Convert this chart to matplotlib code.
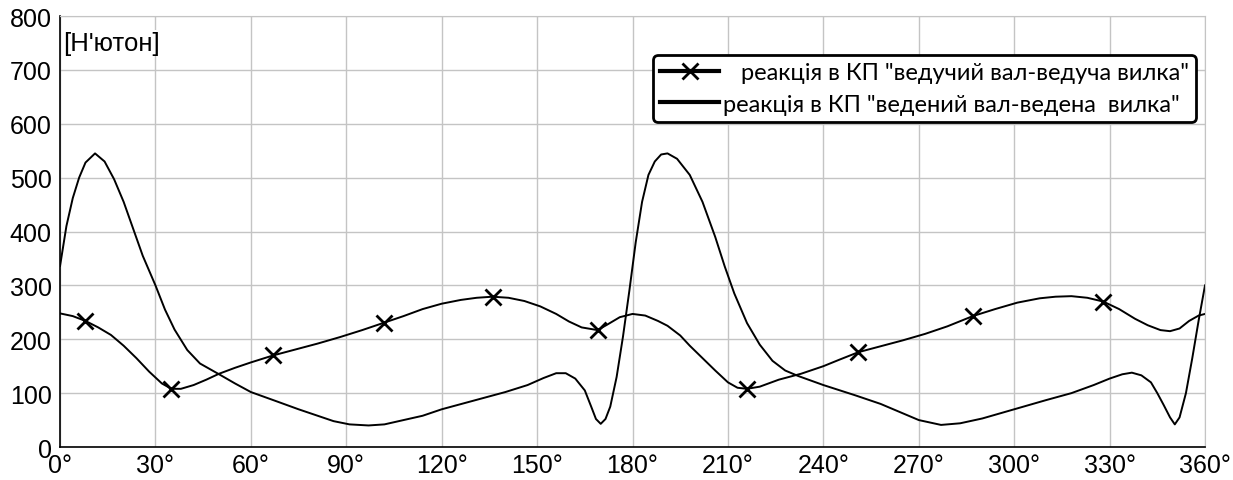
import matplotlib.pyplot as plt

# кути (градуси) та реакції [Н] - крива "ведучий вал-ведуча вилка"
kut_a = [0, 4, 8, 12, 16, 20, 24, 28, 32, 35, 38, 42, 46, 50, 55, 60, 67, 74, 81, 88,
         95, 102, 108, 114, 120, 126, 131, 136, 141, 146, 151, 156, 160, 164, 169, 172,
         176, 180, 184, 188, 191, 195, 198, 202, 206, 210, 213, 216, 220, 226, 233, 240,
         245, 251, 258, 265, 272, 279, 287, 294, 301, 308, 313, 318, 323, 328, 333, 338,
         342, 346, 349, 352, 355, 358, 360]
reak_a = [248, 243, 234, 222, 208, 188, 165, 140, 118, 108, 108, 115, 125, 136, 147, 157, 170, 181, 192, 204,
          217, 231, 243, 256, 266, 273, 277, 279, 277, 271, 261, 247, 233, 222, 217, 227,
          241, 247, 244, 234, 225, 207, 188, 165, 142, 120, 110, 108, 112, 125, 136, 150,
          162, 176, 187, 198, 210, 224, 243, 256, 268, 276, 279, 280, 277, 270, 256, 238,
          226, 217, 215, 220, 234, 244, 247]
# кути, де стоять маркери
kut_markeriv = [8, 35, 67, 102, 136, 169, 216, 251, 287, 328]

# крива "ведений вал-ведена вилка"
kut_b = [0, 2, 4, 6, 8, 11, 14, 17, 20, 23, 26, 30, 33, 36, 40, 44, 50, 55, 60, 68,
         75, 81, 86, 91, 97, 102, 108, 114, 120, 130, 140, 147, 152, 156, 159, 162,
         165, 167, 168.5, 170, 171.5, 173, 175, 177, 179, 181, 183, 185, 187, 189, 191,
         194, 198, 202, 206, 209, 212, 216, 220, 224, 228, 232, 240, 250, 258, 264, 270,
         277, 283, 290, 300, 310, 318, 325, 330, 334, 337, 340, 343, 345, 347, 349,
         350.5, 352, 354, 356, 358, 360]
reak_b = [336, 410, 462, 500, 528, 545, 530, 497, 455, 405, 355, 300, 255, 218, 180, 155, 135, 118, 102, 85,
          70, 58, 48, 42, 40, 42, 50, 58, 70, 86, 102, 115, 128, 137, 137, 127,
          105, 75, 52, 43, 52, 75, 130, 205, 290, 380, 455, 505, 530, 543, 545,
          535, 505, 455, 390, 335, 285, 230, 190, 160, 142, 132, 115, 96, 80, 65, 50,
          41, 44, 53, 70, 87, 100, 115, 127, 135, 138, 133, 120, 100, 78, 55,
          42, 55, 100, 165, 235, 300]

x_ticks = list(range(0, 361, 30))
x_labels = [f'{t}°' for t in x_ticks]
y_ticks = list(range(0, 801, 100))

fig = plt.figure(figsize=(12.33, 4.81), dpi=100)
ax = fig.add_axes([0.0487, 0.0686, 0.9286, 0.896])

idx = [kut_a.index(k) for k in kut_markeriv]
l1, = ax.plot(kut_a, reak_a, color='black', lw=1.4, marker='x', markevery=idx,
              markersize=11, markeredgewidth=2,
              label='   реакція в КП "ведучий вал-ведуча вилка"')
l2, = ax.plot(kut_b, reak_b, color='black', lw=1.4,
              label='реакція в КП "ведений вал-ведена  вилка"')

ax.set_xlim(0, 360)
ax.set_ylim(0, 800)
ax.set_xticks(x_ticks)
ax.set_xticklabels(x_labels)
ax.set_yticks(y_ticks)
ax.tick_params(labelsize=18, length=0)
ax.tick_params(axis='x', pad=4)
ax.tick_params(axis='y', pad=6)
for lab in ax.get_xticklabels() + ax.get_yticklabels():
    lab.set_fontfamily('Liberation Sans')
ax.grid(True, color='#c4c4c4', lw=1)
ax.spines['top'].set_color('#c4c4c4')
ax.spines['right'].set_color('#c4c4c4')
ax.spines['left'].set_linewidth(1.2)
ax.spines['bottom'].set_linewidth(1.2)

ax.text(0.003, 0.965, "[Н'ютон]", transform=ax.transAxes, fontsize=18.5,
        family='Liberation Sans', va='top', ha='left',
        bbox=dict(facecolor='white', edgecolor='none', pad=1))

leg = ax.legend(handles=[l1, l2], loc='upper right', bbox_to_anchor=(0.992, 0.91),
                borderaxespad=0, prop={'family': 'Lato', 'size': 17}, handlelength=2.5,
                handletextpad=0.15, labelspacing=0.45, borderpad=0.3,
                fancybox=True, framealpha=1, edgecolor='black')
leg.get_frame().set_linewidth(2)
for ln in leg.get_lines():
    ln.set_linewidth(3)

fig.savefig('out.png', dpi=100)
